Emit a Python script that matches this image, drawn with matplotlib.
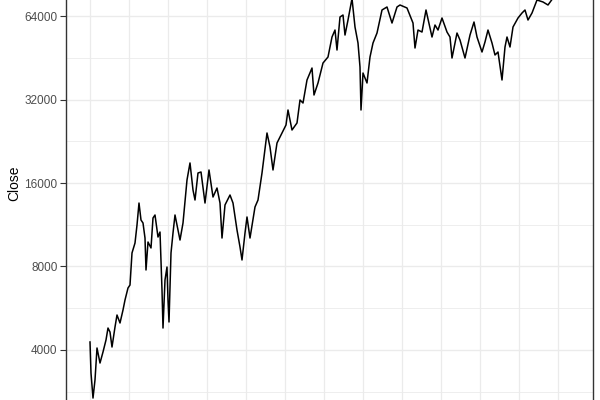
import matplotlib
matplotlib.use("Agg")
import matplotlib.pyplot as plt
from matplotlib.ticker import FixedLocator, NullFormatter

# time position along the x axis (39 units per grid step)
t = [0, 1, 3, 5, 7, 10, 13, 16, 18, 20,
     22, 25, 27, 30, 33, 35, 38, 40, 42, 45,
     47, 49, 51, 53, 55, 56, 58, 61, 63, 65,
     68, 70, 72, 73, 75, 77, 78, 79, 81, 83,
     85, 87, 90, 93, 97, 100, 103, 105, 108, 111,
     115, 119, 123, 127, 130, 132, 135, 140, 143, 147,
     150, 152, 155, 157, 160, 165, 168, 172, 177, 180,
     183, 187, 192, 196, 198, 202, 207, 210, 213, 217,
     222, 224, 228, 233, 238, 242, 245, 247, 250, 253,
     255, 258, 262, 265, 268, 270, 271, 273, 277, 280,
     283, 287, 292, 297, 302, 307, 310, 317, 323, 325,
     328, 332, 336, 342, 345, 348, 352, 357, 360, 362,
     367, 370, 375, 380, 384, 387, 392, 395, 398, 402,
     405, 408, 412, 415, 417, 420, 423, 428, 432, 435,
     438, 442, 447, 453, 458, 465, 472, 480]

close = [4275, 3303, 2684, 3120, 4067, 3590, 3934, 4347, 4800, 4643,
         4100, 4840, 5348, 5005, 5575, 6057, 6693, 6860, 8951, 9721,
         11289, 13549, 11768, 11479, 10133, 7771, 9803, 9330, 11967, 12268,
         10218, 10651, 6583, 4800, 7152, 7966, 6057, 5047, 8951, 10563,
         12268, 11289, 9966, 11479, 16405, 18896, 15096, 13893, 17385, 17531,
         13549, 17826, 14243, 15349, 13549, 10133, 13333, 14483, 13549, 10831,
         9408, 8445, 10563, 12066, 10133, 13113, 13893, 17385, 24233, 21571,
         17826, 22302, 24233, 25900, 29332, 24843, 26336, 31867, 31085, 37628,
         41560, 33221, 36705, 43320, 45540, 53760, 56970, 48260, 63480, 64540,
         54650, 61910, 74000, 58410, 51150, 41905, 29332, 39869, 36705, 45540,
         51150, 55570, 67280, 68980, 60380, 68980, 70130, 68410, 60380, 49070,
         56970, 56030, 67280, 53760, 59390, 56970, 62950, 56030, 53760, 45160,
         55570, 52440, 45160, 54650, 60890, 53760, 47470, 51600, 56970, 51150,
         46300, 47470, 37628, 49480, 53760, 49480, 58410, 62950, 65620, 67280,
         61910, 65620, 73100, 71900, 70130, 76000, 78000, 75000]

y_breaks = [4000, 8000, 16000, 32000, 64000]
y_minor = [2828, 5657, 11314, 22627, 45255]
y_labels = ["4000", "8000", "16000", "32000", "64000"]
x_grid = [0, 39, 78, 117, 156, 195, 234, 273, 312, 351, 390, 429, 468]

plt.rcParams['font.family'] = ['Liberation Sans', 'DejaVu Sans']

fig = plt.figure(figsize=(6, 4), dpi=100)
fig.patch.set_facecolor("white")
# panel is larger than the visible crop: only the left/right borders show
ax = fig.add_axes([66 / 600, 0, 527 / 600, 1])
ax.set_facecolor("white")

ax.set_yscale("log")
ax.set_ylim(2641, 73100)
ax.set_xlim(-24, 503)

# grid
for v in y_breaks:
    ax.axhline(v, color="#ebebeb", lw=1.0, zorder=0)
for v in y_minor:
    ax.axhline(v, color="#ebebeb", lw=0.6, zorder=0)
for v in x_grid:
    ax.axvline(v, color="#ebebeb", lw=0.9, zorder=0)

ax.plot(t, close, color="black", lw=1.1, zorder=2)

ax.yaxis.set_major_locator(FixedLocator(y_breaks))
ax.set_yticklabels(y_labels)
ax.yaxis.set_minor_locator(FixedLocator(y_minor))
ax.yaxis.set_minor_formatter(NullFormatter())
ax.tick_params(axis="y", which="major", length=4, width=0.8, color="#333333",
               labelsize=8.5, labelcolor="#4d4d4d", pad=2)
ax.tick_params(axis="y", which="minor", length=0)
ax.tick_params(axis="x", which="both", length=0, labelbottom=False)

for s in ["top", "bottom"]:
    ax.spines[s].set_visible(False)
for s in ["left", "right"]:
    ax.spines[s].set_color("#333333")
    ax.spines[s].set_linewidth(1.0)

fig.text(14 / 600, 1 - 183 / 400, "Close", rotation=90, ha="center", va="center",
         fontsize=10, color="black")

fig.savefig("out.png", dpi=100)
